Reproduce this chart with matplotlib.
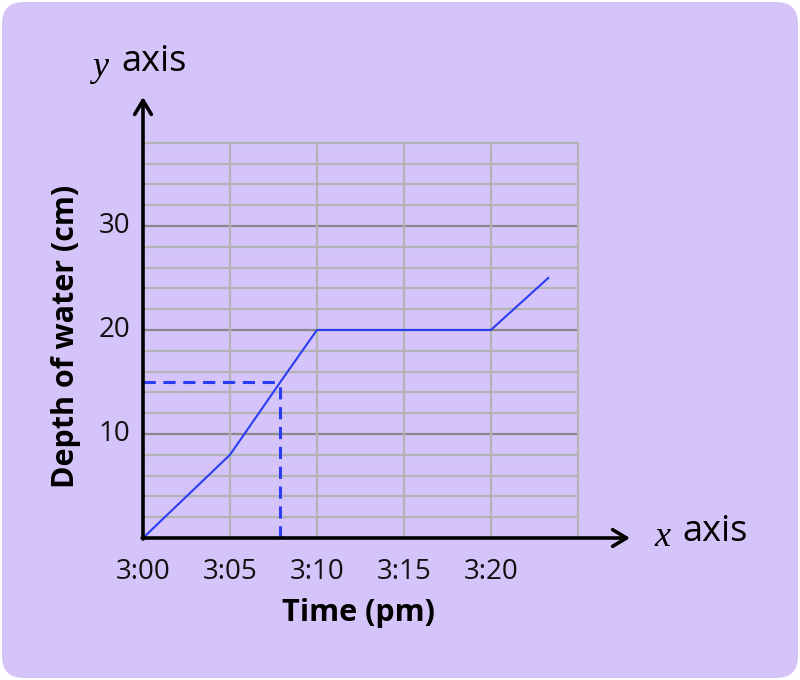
import matplotlib
matplotlib.use("Agg")
import matplotlib.pyplot as plt
from matplotlib.patches import FancyBboxPatch

# ── Data ────────────────────────────────────────────────────────────
minutes = [0, 5, 7.9, 10, 20, 23.3]          # minutes after 3:00 pm
depth = [0, 8, 15, 20, 20, 25]               # depth of water (cm)
x_ticks = [0, 5, 10, 15, 20]
x_labels = ["3:00", "3:05", "3:10", "3:15", "3:20"]
y_ticks = [10, 20, 30]
read_x, read_y = 7.9, 15                      # dashed read-off point

GRID_X_MAX = 25
GRID_Y_MAX = 38

FONT = "Open Sans"
BG = "#D4C4FA"
BLUE = "#2A3DF5"

fig = plt.figure(figsize=(8, 6.8), dpi=100)
fig.patch.set_facecolor("white")
fig.patches.append(FancyBboxPatch((0.02, 0.02), 7.96, 6.76,
                                  boxstyle="round,pad=0,rounding_size=0.22",
                                  transform=fig.dpi_scale_trans,
                                  facecolor=BG, edgecolor="none", zorder=-5))

# axes box: origin at (143, 538) px, arrow tips at x=630 / y=97
ax = fig.add_axes([143 / 800, (680 - 538) / 680, (630 - 143) / 800, (538 - 97) / 680])
ax.set_facecolor("none")
ax.set_xlim(0, 28)
ax.set_ylim(0, 42.4)
for s in ax.spines.values():
    s.set_visible(False)
ax.set_xticks([])
ax.set_yticks([])

# ── Grid ────────────────────────────────────────────────────────────
for yv in range(2, GRID_Y_MAX + 1, 2):
    major = yv % 10 == 0
    ax.hlines(yv, 0, GRID_X_MAX, color="#8a8a8a" if major else "#b3b3b3",
              lw=1.6, zorder=1)
for xv in range(5, GRID_X_MAX + 1, 5):
    ax.vlines(xv, 0, GRID_Y_MAX, color="#b3b3b3", lw=1.6, zorder=1)

# ── Axes arrows ─────────────────────────────────────────────────────
arrow = dict(arrowstyle="->,head_length=1.0,head_width=0.6", lw=2.6,
             color="black", shrinkA=0, shrinkB=0)
ax.annotate("", xy=(28, 0), xytext=(-0.05, 0), arrowprops=arrow,
            annotation_clip=False, zorder=5)
ax.annotate("", xy=(0, 42.4), xytext=(0, -0.1), arrowprops=arrow,
            annotation_clip=False, zorder=5)

# ── Data line and read-off ──────────────────────────────────────────
ax.plot(minutes, depth, color=BLUE, lw=1.5, zorder=3, clip_on=False)
ax.plot([0, read_x], [read_y, read_y], color=BLUE, lw=2.2,
        dashes=(4, 2.5), zorder=3)
ax.plot([read_x, read_x], [0, read_y], color=BLUE, lw=2.2,
        dashes=(4, 2.5), zorder=3)

# ── Labels ──────────────────────────────────────────────────────────
for xv, lab in zip(x_ticks, x_labels):
    ax.text(xv, -1.9, lab, ha="center", va="top", fontsize=20,
            family=FONT, color="#111111")
for yv in y_ticks:
    ax.text(-0.75, yv, str(yv), ha="right", va="center", fontsize=20,
            family=FONT, color="#111111")

fig.text(358 / 800, 1 - 613 / 680, "Time (pm)", ha="center", va="center",
         fontsize=22, fontweight="bold", family=FONT)
fig.text(66 / 800, 1 - 336 / 680, "Depth of water (cm)", ha="center",
         va="center", rotation=90, fontsize=22, fontweight="bold", family=FONT)

fig.text(100 / 800, 1 - 68 / 680, "y", ha="center", va="center", fontsize=26,
         style="italic", family="Liberation Serif")
fig.text(121 / 800, 1 - 62 / 680, "axis", ha="left", va="center",
         fontsize=26, family=FONT)
fig.text(662 / 800, 1 - 537 / 680, "x", ha="center", va="center", fontsize=26,
         style="italic", family="Liberation Serif")
fig.text(682 / 800, 1 - 532 / 680, "axis", ha="left", va="center",
         fontsize=26, family=FONT)

fig.savefig("out.png", dpi=100, facecolor=fig.get_facecolor())
